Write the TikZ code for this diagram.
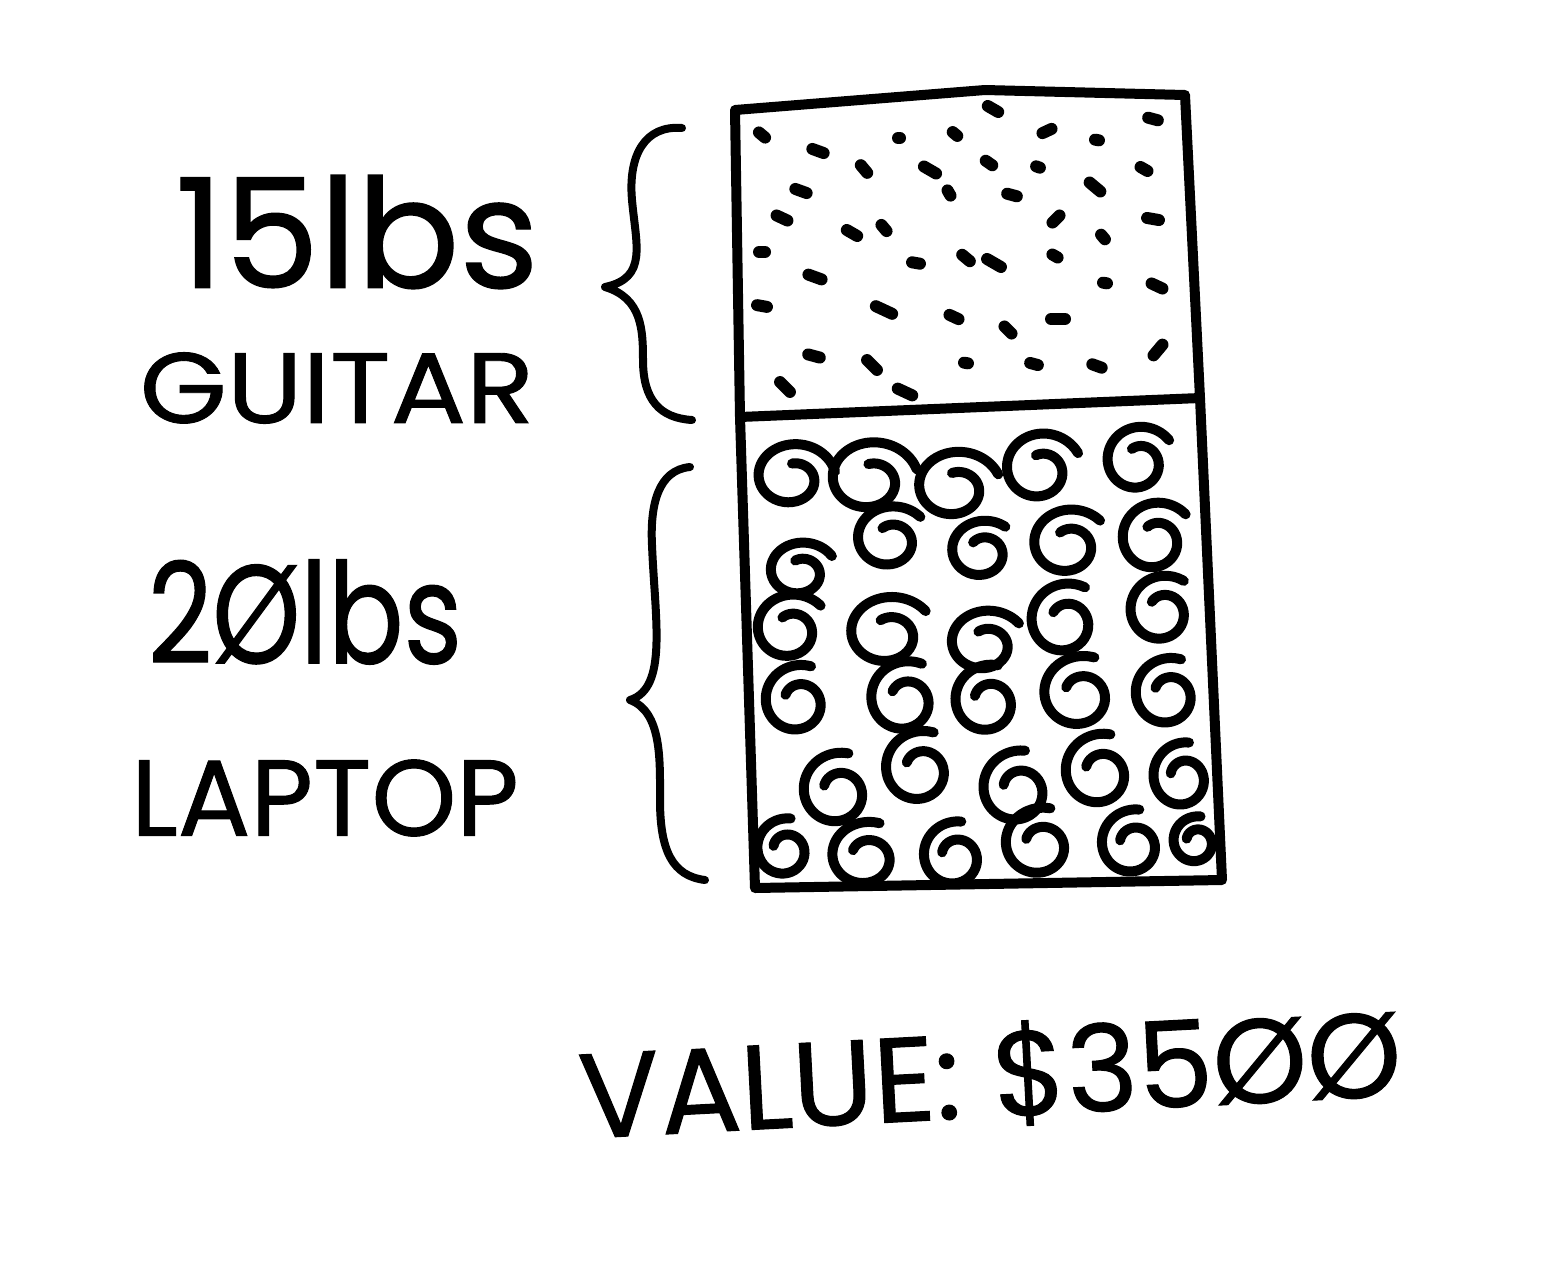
\documentclass[tikz,border=0pt]{standalone}
\usepackage{fontspec}
\newfontfamily\hand{Poppins}[UprightFeatures={FakeBold=0.9}]
\begin{document}
\begin{tikzpicture}[x=0.5pt,y=-0.5pt,
  boxline/.style={line width=5pt,line join=round,line cap=round},
  bracestroke/.style={line width=4pt,line cap=round,line join=round},
  speck/.style={line width=6pt,line cap=round},
  swirl/.style={line width=5pt,line cap=round,line join=round},
  label/.style={inner sep=0pt,anchor=center}]
\useasboundingbox[fill=white] (0,0) rectangle (1543,1270);

% box corners
\coordinate (TL) at (735,110);
\coordinate (TM) at (985,90);
\coordinate (TR) at (1185,95);
\coordinate (ML) at (740,417);
\coordinate (MR) at (1200,398);
\coordinate (BL) at (755,888);
\coordinate (BR) at (1222,880);

% dots (guitar)
\foreach \x/\y/\a/\l in {
993/109/30/6, 1153/119/15/5, 762/135/40/4, 899/138/0/1, 955/134/40/3,
1047/131/-25/5, 1097/140/10/2, 818/151/20/6, 864/169/50/5, 930/170/30/7,
989/163/35/4, 1038/167/20/2, 1144/169/30/4, 801/191/20/6, 949/193/60/3,
1012/195/15/5, 1095/187/40/7, 782/218/25/6, 852/233/30/6, 884/228/50/4,
1056/219/-45/5, 1153/219/10/6, 1103/237/50/3, 762/252/0/3, 916/263/10/4,
966/258/40/5, 994/263/30/8, 1055/256/30/3, 815/277/20/7, 1105/283/10/2,
1157/286/25/6, 762/306/10/5, 884/310/25/9, 954/317/25/5, 1008/330/45/5,
1058/319/0/7, 814/356/15/6, 872/365/45/7, 966/363/10/2, 1034/364/15/4,
1097/366/20/5, 1158/350/-50/7, 785/387/45/7, 905/392/25/8}
{\draw[speck] (\x,\y) ++(\a:\l) -- ++(\a+180:2*\l);}

% swirls (laptop)
\foreach \cx/\cy/\R/\s/\w in {
792/478/38/10/1.15, 870/480/42/15/1.15, 955/488/40/20/1.15, 1040/470/40/25/1.05, 1138/462/38/35/1.0,
890/540/36/40/1.1, 982/552/33/50/1.1, 1068/545/38/40/1.1, 1155/540/40/40/1.0, 800/572/32/30/1.15,
790/630/38/40/1.05, 888/634/40/35/1.15, 985/644/36/35/1.15, 1065/622/40/60/1.0, 1162/612/38/55/1.0,
798/702/38/70/1.0, 905/700/40/65/1.0, 988/702/38/75/1.0, 1080/695/40/70/1.05, 1168/695/38/70/1.0,
838/792/40/75/1.0, 920/770/40/70/1.0, 1018/790/40/80/1.0, 1100/773/40/75/1.0, 1183/778/36/80/0.95,
785/850/32/80/1.0, 866/857/36/70/1.1, 955/857/36/80/1.0, 1040/845/38/75/1.05, 1133/845/36/80/1.0, 1196/842/26/80/1.0}
{\draw[swirl] plot[domain=0:1,samples=50,smooth,variable=\t]
  ({\cx+\w*\R*(1-0.62*\t)*cos(\s+440*\t)},{\cy-\R*(1-0.62*\t)*sin(\s+440*\t)});}

% box outline
\draw[boxline] (TL) -- (TM) -- (TR) -- (MR) -- (BR) -- (BL) -- (ML) -- cycle;
\draw[boxline] (ML) -- (MR);

% braces
\coordinate (b1s) at (682,128);
\coordinate (b1t) at (605,287);
\coordinate (b1e) at (692,420);
\draw[bracestroke] (b1s) .. controls (645,125) and (628,155) .. (632,200)
  .. controls (636,245) and (648,278) .. (b1t)
  .. controls (642,298) and (643,330) .. (643,360)
  .. controls (643,400) and (660,418) .. (b1e);
\coordinate (b2s) at (690,467);
\coordinate (b2t) at (630,700);
\coordinate (b2e) at (705,880);
\draw[bracestroke] (b2s) .. controls (658,470) and (650,505) .. (652,545)
  .. controls (655,620) and (668,688) .. (b2t)
  .. controls (662,712) and (660,760) .. (660,800)
  .. controls (660,850) and (672,876) .. (b2e);

% labels
\node[label,font=\hand\fontsize{76}{80}\selectfont] (w1) at (357,232) {15lbs};
\node[label,font=\hand\fontsize{50}{54}\selectfont,xscale=1.12] (n1) at (337,388) {GUITAR};
\node[label,font=\hand\fontsize{70}{74}\selectfont,xscale=0.8] (w2) at (305,612) {2Ølbs};
\node[label,font=\hand\fontsize{54}{58}\selectfont] (n2) at (325,798) {LAPTOP};
\node[label,font=\hand\fontsize{60}{64}\selectfont,rotate=3] (val) at (990,1075) {VALUE: \$35ØØ};
\end{tikzpicture}
\end{document}
